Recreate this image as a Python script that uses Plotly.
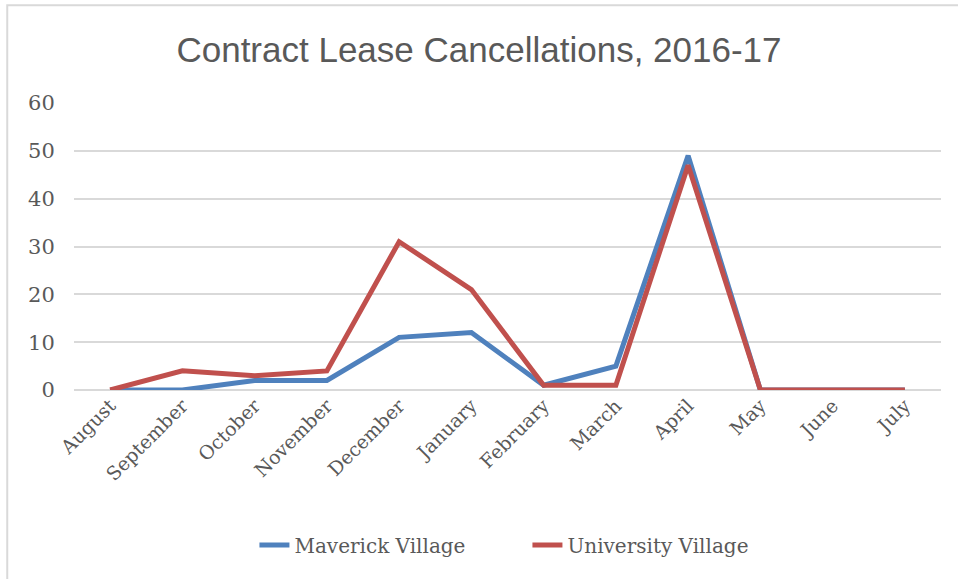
import plotly.graph_objects as go

months = ["August", "September", "October", "November", "December", "January",
          "February", "March", "April", "May", "June", "July"]
maverick = [0, 0, 2, 2, 11, 12, 1, 5, 49, 0, 0, 0]
university = [0, 4, 3, 4, 31, 21, 1, 1, 47, 0, 0, 0]
y_ticks = [0, 10, 20, 30, 40, 50, 60]

serif = "'DejaVu Serif', serif"
text_col = "#595959"

fig = go.Figure()
fig.add_trace(go.Scatter(x=months, y=maverick, name="Maverick Village", mode="lines",
                         line=dict(color="#4F81BD", width=5)))
fig.add_trace(go.Scatter(x=months, y=university, name="University Village", mode="lines",
                         line=dict(color="#C0504D", width=5)))

fig.update_layout(
    width=958, height=579,
    margin=dict(l=74, r=17, t=103, b=189),
    paper_bgcolor="white", plot_bgcolor="white",
    title=dict(text="Contract Lease Cancellations, 2016-17", x=0.5, xanchor="center",
               y=1 - 50 / 579, yanchor="middle",
               font=dict(family="'Liberation Sans', Arial, sans-serif",
                         size=35, color=text_col)),
    legend=dict(orientation="h", x=0.523, xanchor="center", y=-0.54, yanchor="middle",
                font=dict(family=serif, size=20, color=text_col), entrywidth=228),
    font=dict(family=serif, size=20, color=text_col),
    shapes=[dict(type="rect", xref="paper", yref="paper", x0=-0.077, x1=1.2,
                 y0=-0.9, y1=1.341, line=dict(color="#D9D9D9", width=2))],
)
fig.update_xaxes(range=[-0.5, 11.5], automargin=False, showgrid=False, showline=False,
                 tickangle=-45, ticks="",
                 tickfont=dict(family=serif, size=19, color=text_col))
fig.update_yaxes(range=[0, 60], tickvals=y_ticks, gridcolor="#D9D9D9", gridwidth=2,
                 zeroline=True, zerolinecolor="#D9D9D9", zerolinewidth=2,
                 automargin=False, showline=False, ticks="outside", ticklen=14,
                 tickcolor="white",
                 tickfont=dict(family=serif, size=21, color=text_col))

# drop the page's default body margin so the figure sits at the window's corner
fig.write_html("out.html", config={"displayModeBar": False},
               post_script="document.body.style.margin='0';")
